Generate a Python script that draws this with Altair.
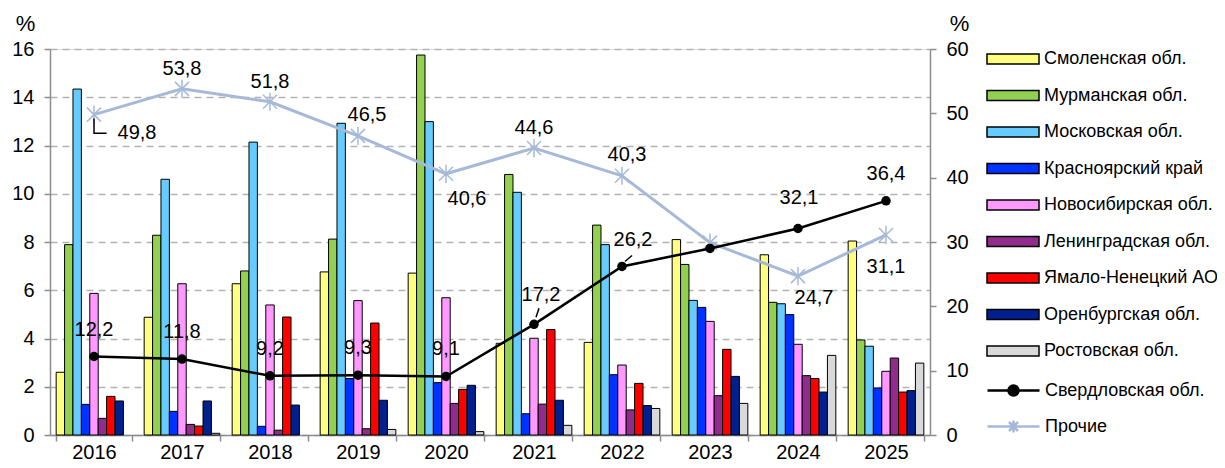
import altair as alt
import pandas as pd

years = ["2016", "2017", "2018", "2019", "2020", "2021", "2022", "2023", "2024", "2025"]
regions = ["Смоленская обл.", "Мурманская обл.", "Московская обл.", "Красноярский край",
           "Новосибирская обл.", "Ленинградская обл.", "Ямало-Ненецкий АО",
           "Оренбургская обл.", "Ростовская обл."]
smolensk = [2.6, 4.88, 6.27, 6.76, 6.71, 3.8, 3.84, 8.1, 7.47, 8.04]
murmansk = [7.89, 8.28, 6.8, 8.12, 15.75, 10.8, 8.7, 7.07, 5.5, 3.94]
moscow = [14.34, 10.6, 12.14, 12.92, 12.99, 10.06, 7.89, 5.58, 5.44, 3.68]
krasnoyarsk = [1.27, 0.98, 0.36, 2.34, 2.17, 0.88, 2.5, 5.29, 4.99, 1.95]
novosibirsk = [5.87, 6.27, 5.39, 5.57, 5.69, 4.01, 2.9, 4.71, 3.76, 2.64]
leningrad = [0.69, 0.44, 0.2, 0.26, 1.31, 1.28, 1.04, 1.63, 2.46, 3.19]
yamal = [1.6, 0.37, 4.89, 4.64, 1.89, 4.37, 2.14, 3.55, 2.34, 1.78]
orenburg = [1.41, 1.41, 1.24, 1.44, 2.06, 1.44, 1.22, 2.43, 1.78, 1.84]
rostov = [0, 0.07, 0, 0.23, 0.14, 0.4, 1.1, 1.31, 3.3, 2.98]

line_series = ["Свердловская обл.", "Прочие"]
sverdlovsk = [12.2, 11.8, 9.2, 9.3, 9.1, 17.2, 26.2, 29.0, 32.1, 36.4]
prochie = [49.8, 53.8, 51.8, 46.5, 40.6, 44.6, 40.3, 29.9, 24.7, 31.1]

bar_colors = ["#FFFF80", "#92D050", "#66CCFF", "#0033FF", "#FF99FF",
              "#912B8C", "#FF0000", "#00208F", "#D9D9D9"]
SV_COLOR = "#000000"
PR_COLOR = "#A7B9D9"
FONT = "Liberation Sans"

bar_series = [smolensk, murmansk, moscow, krasnoyarsk, novosibirsk,
              leningrad, yamal, orenburg, rostov]
bar_rows = []
for reg, vals in zip(regions, bar_series):
    for y, v in zip(years, vals):
        bar_rows.append({"year": y, "region": reg, "value": v})
df_bars = pd.DataFrame(bar_rows)

line_rows = []
for s, vals in zip(line_series, [sverdlovsk, prochie]):
    for y, v in zip(years, vals):
        line_rows.append({"year": y, "series": s, "value": v,
                          "label": f"{v:.1f}".replace(".", ",")})
df_lines = pd.DataFrame(line_rows)

x_enc = alt.X("year:N", sort=years,
              scale=alt.Scale(paddingInner=0.14, paddingOuter=0.07),
              axis=alt.Axis(title=None, labelAngle=0, labelFontSize=20, labelFont=FONT,
                            labelColor="black", tickBand="extent", tickSize=6,
                            tickColor="#8c8c8c", tickWidth=1.5, domainColor="#8c8c8c",
                            domainWidth=1.5, labelPadding=1, grid=False))

bar_legend = alt.Legend(orient="none", legendX=952, legendY=-1, title=None,
                        symbolType="M-2.6,-0.5H2.6V0.5H-2.6Z", symbolSize=400,
                        symbolStrokeColor="black", symbolStrokeWidth=1.5,
                        labelFontSize=18, labelFont=FONT, labelColor="black",
                        labelLimit=300, labelOffset=20, rowPadding=16.5, padding=0,
                        symbolOpacity=1)

bars = alt.Chart(df_bars).transform_filter(alt.datum.value > 0).mark_bar(
    stroke="black", strokeWidth=1
).encode(
    x=x_enc,
    xOffset=alt.XOffset("region:N", sort=regions,
                        scale=alt.Scale(paddingInner=0, paddingOuter=0)),
    y=alt.Y("value:Q", scale=alt.Scale(domain=[0, 16], nice=False),
            axis=alt.Axis(title="%", titleAngle=0, titleAlign="center", titleBaseline="middle",
                          titleX=-25, titleY=-26, titleFontSize=22, titleFont=FONT,
                          titleFontWeight="normal", titleColor="black",
                          values=list(range(0, 17, 2)), labelFontSize=20, labelFont=FONT,
                          labelColor="black", tickSize=6, tickColor="#8c8c8c",
                          tickWidth=1.5, domainColor="#8c8c8c", domainWidth=1.5,
                          labelPadding=10, grid=True, gridDash=[7, 5],
                          gridColor="#b3b3b3", gridWidth=1.5)),
    color=alt.Color("region:N", sort=regions,
                    scale=alt.Scale(domain=regions, range=bar_colors),
                    legend=bar_legend),
)

y_right = alt.Y("value:Q", scale=alt.Scale(domain=[0, 60], nice=False),
                axis=alt.Axis(orient="right", title="%", titleAngle=0, titleAlign="center",
                              titleBaseline="middle", titleX=29, titleY=-26,
                              titleFontSize=22, titleFont=FONT, titleFontWeight="normal",
                              titleColor="black", values=list(range(0, 61, 10)),
                              labelFontSize=20, labelFont=FONT, labelColor="black",
                              tickSize=6, tickColor="#8c8c8c", tickWidth=1.5,
                              domainColor="#8c8c8c", domainWidth=1.5, labelPadding=10,
                              grid=False))

base = alt.Chart(df_lines)
sv = base.transform_filter(alt.datum.series == line_series[0])
pr = base.transform_filter(alt.datum.series == line_series[1])

pr_line = pr.mark_line(color=PR_COLOR, strokeWidth=3).encode(x=x_enc, y=y_right)
pr_pts = pr.mark_point(shape="M-1,-1L1,1M-1,1L1,-1M0,-1.3V1.3", size=196,
                       stroke=PR_COLOR, strokeWidth=1.5, filled=False, opacity=1
                       ).encode(x=x_enc, y=y_right)
sv_line = sv.mark_line(color=SV_COLOR, strokeWidth=2.5).encode(x=x_enc, y=y_right)
sv_pts = sv.mark_circle(color=SV_COLOR, size=90, opacity=1).encode(x=x_enc, y=y_right)

line_legend = alt.Legend(orient="none", legendX=952, legendY=330, title=None,
                         symbolSize=400, symbolStrokeWidth=2.5,
                         labelFontSize=18, labelFont=FONT, labelColor="black",
                         labelLimit=300, labelOffset=20, rowPadding=14, padding=0,
                         symbolOpacity=1)
sym_paths = ["M-2.6,0H2.6M-0.5,0A0.5,0.5,0,1,0,0.5,0A0.5,0.5,0,1,0,-0.5,0Z",
             "M-2.6,0H2.6M-0.45,-0.45L0.45,0.45M-0.45,0.45L0.45,-0.45M0,-0.6V0.6"]
legend_dummy = base.mark_point(opacity=0, filled=True).encode(
    x=x_enc, y=y_right,
    stroke=alt.Stroke("series:N", scale=alt.Scale(domain=line_series, range=[SV_COLOR, PR_COLOR]),
                      legend=line_legend),
    fill=alt.Fill("series:N", scale=alt.Scale(domain=line_series, range=[SV_COLOR, PR_COLOR]),
                  legend=line_legend),
    shape=alt.Shape("series:N", scale=alt.Scale(domain=line_series, range=sym_paths),
                    legend=line_legend),
)

# label placements: (series index, years, dx, dy)
placements = [
    (0, ["2016", "2017", "2018", "2019", "2020"], 0, -27),
    (0, ["2024"], 1, -30),
    (0, ["2025"], 0, -27),
    (0, ["2021"], 7, -29),
    (0, ["2022"], 11, -26),
    (1, ["2017", "2018", "2021"], 0, -20),
    (1, ["2019"], 9, -21),
    (1, ["2022"], 5, -21),
    (1, ["2020"], 21, 25),
    (1, ["2024"], 16, 22),
    (1, ["2025"], 0, 32),
    (1, ["2016"], 43, 18),
]
texts = []
for si, yrs, dx, dy in placements:
    texts.append(
        base.transform_filter(alt.datum.series == line_series[si])
        .transform_filter(alt.FieldOneOfPredicate(field="year", oneOf=yrs))
        .mark_text(dx=dx, dy=dy, fontSize=20, font=FONT, color="black",
                   align="center", baseline="middle")
        .encode(x=x_enc, y=y_right, text="label:N")
    )

# leader lines
leader_specs = [
    (1, "2016", "M0,0.28V1.33H0.9", 784),
    (0, "2021", "M0.2,-0.7L0.5,-1.6", 400),
    (0, "2022", "M0.3,-0.5L1,-1.1", 400),
]
leaders = []
for si, yr, path, size in leader_specs:
    leaders.append(
        base.transform_filter(alt.datum.series == line_series[si])
        .transform_filter(alt.datum.year == yr)
        .mark_point(shape=path, size=size, stroke="black", strokeWidth=1.5,
                    filled=False, opacity=1)
        .encode(x=x_enc, y=y_right)
    )

lines_layer = alt.layer(pr_line, pr_pts, sv_line, sv_pts, legend_dummy, *leaders, *texts)

chart = alt.layer(bars, lines_layer).resolve_scale(
    y="independent"
).properties(
    width=880, height=386,
    autosize=alt.AutoSizeParams(type="none"),
    padding={"left": 42, "top": 41, "right": 287, "bottom": 25},
).configure_view(stroke=None).configure(background="white")

chart.save("out.html", embed_options={"renderer": "svg", "actions": False})
